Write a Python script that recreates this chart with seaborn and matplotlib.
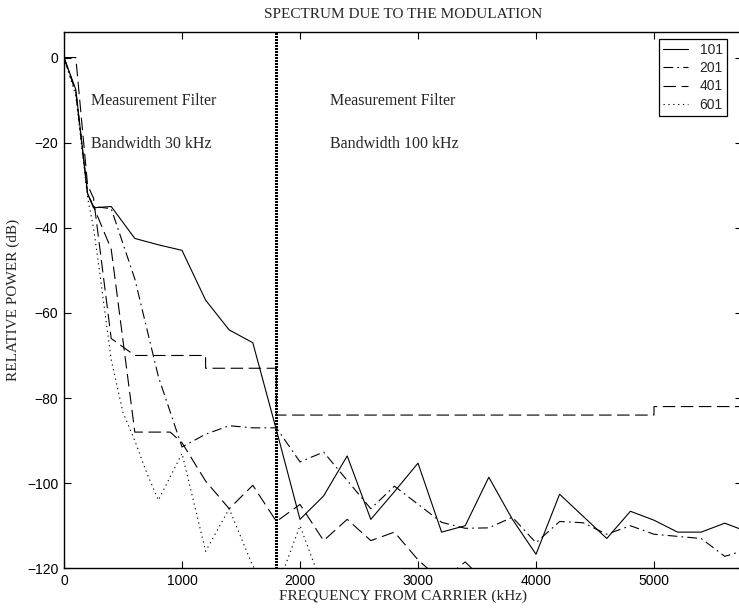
import numpy as np
import pandas as pd
import matplotlib
matplotlib.use("Agg")
import matplotlib.pyplot as plt
import seaborn as sns
from matplotlib.lines import Line2D

# ---------------- data ----------------
freq_101 = [0, 100, 200, 250, 400, 600, 800, 1000, 1200, 1400, 1600, 1800, 2000, 2200, 2400,
            2600, 2800, 3000, 3200, 3400, 3600, 3800, 4000, 4200, 4400, 4600, 4800, 5000,
            5200, 5400, 5600, 5800]
pow_101 = [0, -7.5, -32, -35.3, -35, -42.5, -44, -45.3, -57, -64, -67, -87.5, -108.5, -103, -93.6,
           -108.5, -102, -95.3, -111.5, -110, -98.6, -108.5, -116.7, -102.6, -107.8, -113, -106.6,
           -108.7, -111.5, -111.5, -109.4, -111.5]

freq_201 = [0, 100, 200, 250, 400, 600, 800, 1000, 1200, 1400, 1600, 1800, 2000, 2200, 2600,
            2800, 3200, 3400, 3600, 3800, 4000, 4200, 4400, 4600, 4800, 5000, 5400, 5600, 5800]
pow_201 = [0, -8, -32, -35, -35.5, -52, -75, -91.5, -88.5, -86.5, -87, -87, -95, -92.7, -106,
           -100.7, -109.2, -110.6, -110.5, -108, -114, -109, -109.3, -112, -110, -112, -113,
           -117.2, -115.5]

freq_401 = [0, 100, 200, 250, 400, 600, 900, 1000, 1200, 1400, 1600, 1800, 2000, 2200, 2400,
            2600, 2800, 3000, 3200, 3400, 3600]
pow_401 = [0, -8, -32, -35, -45, -88, -88, -90.5, -99.5, -106, -100.5, -109, -105, -113.5,
           -108.5, -113.5, -111.5, -118, -123, -118.5, -124]

freq_601 = [0, 100, 200, 250, 300, 400, 500, 600, 700, 800, 1000, 1200, 1400, 1600, 1800,
            2000, 2200]
pow_601 = [0, -9, -33, -40, -50, -71, -83.4, -90, -97.5, -104, -93, -116, -106, -119.5, -125,
           -110, -125]

# limit mask (dashed step line, not in legend)
freq_mask = [0, 100, 200, 250, 400, 600, 1200, 1200, 1800, 1800, 5000, 5000, 5800]
pow_mask = [0, 0, -30, -33, -66, -70, -70, -73, -73, -84, -84, -82, -82]

filter_split = 1800
legend_labels = ["101", "201", "401", "601"]
x_ticks = [0, 1000, 2000, 3000, 4000, 5000]
y_ticks = [0, -20, -40, -60, -80, -100, -120]

# ---------------- styling ----------------
sns.set_style("ticks")
plt.rcParams["font.family"] = ["Liberation Sans", "DejaVu Sans"]
plt.rcParams["lines.scale_dashes"] = False
plt.rcParams["xtick.direction"] = "in"
plt.rcParams["ytick.direction"] = "in"

serif = ["Liberation Serif", "DejaVu Serif"]

W, H = 739, 611
fig = plt.figure(figsize=(W / 100, H / 100), dpi=100)
left_px, right_px, top_px, bottom_px = 64, 742.5, 32, 568.3
ax = fig.add_axes([left_px / W, 1 - bottom_px / H, (right_px - left_px) / W, (bottom_px - top_px) / H])

lw = 0.8
styles = {
    "101": "-",
    "201": (0, (7, 3, 1.2, 3)),
    "401": (0, (9, 4)),
    "601": (0, (0.9, 2.6)),
}

sns.lineplot(x=freq_101, y=pow_101, ax=ax, color="black", lw=lw, ls=styles["101"],
             estimator=None, sort=False)
sns.lineplot(x=freq_201, y=pow_201, ax=ax, color="black", lw=lw, ls=styles["201"],
             estimator=None, sort=False)
sns.lineplot(x=freq_401, y=pow_401, ax=ax, color="black", lw=lw, ls=styles["401"],
             estimator=None, sort=False)
sns.lineplot(x=freq_601, y=pow_601, ax=ax, color="black", lw=lw, ls=styles["601"],
             estimator=None, sort=False)
sns.lineplot(x=freq_mask, y=pow_mask, ax=ax, color="black", lw=lw, ls=styles["401"],
             estimator=None, sort=False)

ax.axvline(filter_split, color="black", lw=2.2, ls=(0, (1.3, 0.9)), antialiased=False)

ax.set_xlim(0, 5750)
ax.set_ylim(-120, 6)
ax.set_xticks(x_ticks)
ax.set_yticks(y_ticks)
ax.tick_params(axis="both", which="major", length=5, width=0.8, labelsize=10,
               top=True, right=True, pad=4, colors="black")
for s in ax.spines.values():
    s.set_linewidth(1.0)
    s.set_color("black")
    s.set_visible(True)

ax.set_title("SPECTRUM DUE TO THE MODULATION", family=serif, fontsize=11, pad=10)
ax.set_xlabel("FREQUENCY FROM CARRIER (kHz)", family=serif, fontsize=11, labelpad=1)
ax.set_ylabel("RELATIVE POWER (dB)", family=serif, fontsize=11, labelpad=5)

ax.text(226, -11.2, "Measurement Filter", family=serif, fontsize=11.5, va="baseline")
ax.text(226, -21.3, "Bandwidth 30 kHz", family=serif, fontsize=11.5, va="baseline")
ax.text(2254, -11.2, "Measurement Filter", family=serif, fontsize=11.5, va="baseline")
ax.text(2254, -21.3, "Bandwidth 100 kHz", family=serif, fontsize=11.5, va="baseline")

handles = [Line2D([], [], color="black", lw=lw, ls=styles[k]) for k in legend_labels]
leg = ax.legend(handles, legend_labels, loc="upper right",
                bbox_to_anchor=(727 / W, 1 - 39 / H), bbox_transform=fig.transFigure,
                fontsize=10, frameon=True, fancybox=False, handlelength=1.8,
                borderaxespad=0, borderpad=0.3, labelspacing=0.3, handletextpad=0.8)
leg.get_frame().set_edgecolor("black")
leg.get_frame().set_linewidth(0.9)
leg.get_frame().set_alpha(1)

fig.savefig("out.png", dpi=100)
